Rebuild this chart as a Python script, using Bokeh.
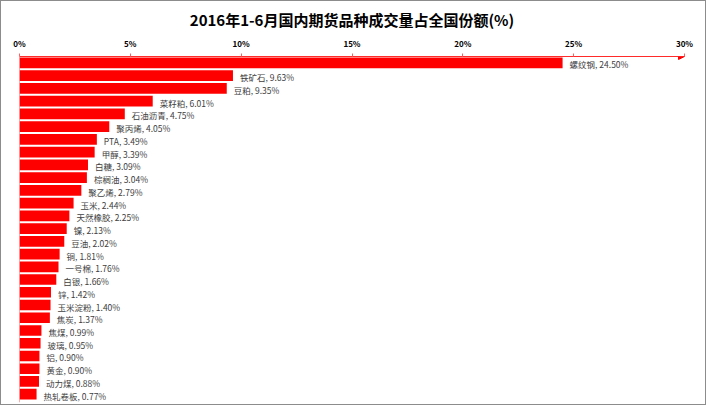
from bokeh.plotting import figure
from bokeh.models import (ColumnDataSource, Range1d, Span, Arrow, NormalHead,
                          FixedTicker, NumeralTickFormatter)
from bokeh.core.properties import value
from bokeh.embed import file_html
from bokeh.resources import INLINE

title_text = "2016年1-6月国内期货品种成交量占全国份额(%)"
names = ["螺纹钢", "铁矿石", "豆粕", "菜籽粕", "石油沥青", "聚丙烯", "PTA", "甲醇", "白糖",
         "棕榈油", "聚乙烯", "玉米", "天然橡胶", "镍", "豆油", "铜", "一号棉", "白银", "锌",
         "玉米淀粉", "焦炭", "焦煤", "玻璃", "铝", "黄金", "动力煤", "热轧卷板"]
shares = [24.50, 9.63, 9.35, 6.01, 4.75, 4.05, 3.49, 3.39, 3.09,
          3.04, 2.79, 2.44, 2.25, 2.13, 2.02, 1.81, 1.76, 1.66, 1.42,
          1.40, 1.37, 0.99, 0.95, 0.90, 0.90, 0.88, 0.77]
ticks = [0, 5, 10, 15, 20, 25, 30]

FONT = "Noto Sans CJK SC"
n = len(names)
labels = [f"{nm}, {v:.2f}%" for nm, v in zip(names, shares)]
pos = [i + 0.5 for i in range(n)]
src = ColumnDataSource(dict(name=names, share=shares, label=labels, pos=pos))

p = figure(width=706, height=405, output_backend="svg", toolbar_location=None,
           y_range=Range1d(n + 0.15, 0), x_range=Range1d(0, 30), x_axis_location="above",
           min_border_left=18, min_border_right=23, min_border_bottom=4, min_border_top=54)
p.styles = {"border": "1px solid #8c8c8c"}
p.outline_line_color = None
p.xgrid.visible = False
p.ygrid.visible = False
p.yaxis.visible = False

p.title.text = title_text
p.title.align = "center"
p.title.offset = 20
p.title.standoff = 10
p.title.text_font = FONT
p.title.text_font_size = "15px"
p.title.text_font_style = "bold"
p.title.text_color = "#000000"

ax = p.xaxis[0]
ax.ticker = FixedTicker(ticks=ticks)
ax.formatter = NumeralTickFormatter(format="0")
ax.major_label_overrides = {t: f"{t}%" for t in ticks}
ax.major_label_text_font = FONT
ax.major_label_text_font_size = "8px"
ax.major_label_text_font_style = "bold"
ax.major_label_text_color = "#000000"
ax.major_label_standoff = 5
ax.axis_line_color = "#ff2a2a"
ax.major_tick_line_color = "#ff6060"
ax.major_tick_out = 3
ax.major_tick_in = 0
ax.minor_tick_line_color = None

p.hbar(y="pos", right="share", left=0, height=0.84, source=src,
       fill_color="#ff0000", line_color=None)

p.add_layout(Span(location=0, dimension="height", line_color="#ff5a5a", line_width=1))

p.text(x="share", y="pos", text="label", source=src, x_offset=7, y_offset=1.5,
       text_font=value(FONT), text_font_size="8.5px", text_color="#404040",
       text_baseline="middle", text_align="left")

p.add_layout(Arrow(x_start=29.6, y_start=0, x_end=30.0, y_end=0,
                   line_color="#ff2a2a", line_width=1,
                   end=NormalHead(size=6, fill_color="#ff0000", line_color="#ff0000")))

open("out.html", "w").write(file_html(p, INLINE))
